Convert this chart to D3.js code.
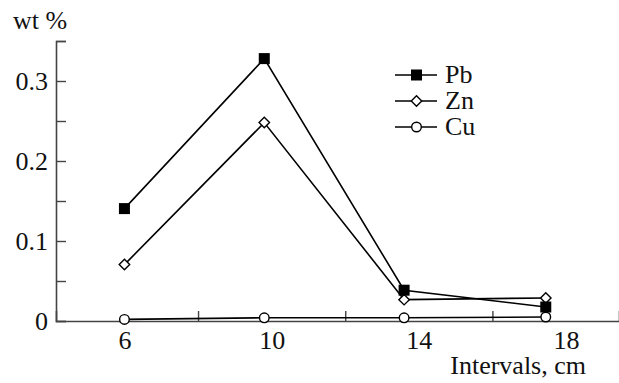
<!DOCTYPE html>
<html>
<head>
<meta charset="utf-8">
<script src="https://cdn.jsdelivr.net/npm/d3@7"></script>
<style>
  html, body { margin: 0; padding: 0; background: #fff; }
  svg { display: block; }
</style>
</head>
<body>
<svg id="chart" width="619" height="383"></svg>
<script>
// Sampling intervals (cm) at which each element was measured
const intervals = [6, 9.8, 13.6, 17.45];

// Metal content, wt %
const pb = [0.1405, 0.328, 0.0385, 0.0175];
const zn = [0.0705, 0.248, 0.0267, 0.0288];
const cu = [0.002, 0.004, 0.004, 0.005];

// Axis ticks
const xLabelTicks = [6, 10, 14, 18];
const xMinorTicks = [8, 12, 16];
const yLabelTicks = [0, 0.1, 0.2, 0.3];
const yMinorTicks = [0.05, 0.15, 0.25, 0.35];

const seriesNames = ["Pb", "Zn", "Cu"];

const FONT = "'Liberation Serif', 'Times New Roman', serif";
const FS = 26;

const svg = d3.select("#chart");
const W = 619;
const plotLeft = 56, plotBottom = 321, plotTop = 41;

const x = d3.scaleLinear().domain([4.14, 19.44]).range([plotLeft, W]);
const y = d3.scaleLinear().domain([0, 0.35]).range([plotBottom, plotTop]);

const axisColor = "#444";
const textColor = "#111";

// Y axis: inward ticks every 0.05, labels every 0.1
const yAxis = svg.append("g").attr("transform", `translate(${plotLeft},0)`)
  .call(d3.axisLeft(y).tickValues(yLabelTicks.concat(yMinorTicks)).tickSize(-10)
    .tickFormat(d => yLabelTicks.includes(d) ? (d === 0 ? "0" : d3.format(".1f")(d)) : ""));
yAxis.select(".domain").attr("stroke", axisColor).attr("stroke-width", 1.6);
yAxis.selectAll(".tick line").attr("stroke", axisColor).attr("stroke-width", 1.4);
yAxis.selectAll(".tick text").attr("x", -8)
  .style("font-family", FONT).style("font-size", FS + "px").style("fill", textColor);

// X axis: short inward minor ticks, labels without tick marks
const xAxis = svg.append("g").attr("transform", `translate(0,${plotBottom})`)
  .call(d3.axisBottom(x).tickValues(xMinorTicks).tickSize(-10).tickFormat(""));
xAxis.select(".domain").attr("stroke", axisColor).attr("stroke-width", 1.6);
xAxis.selectAll(".tick line").attr("stroke", axisColor).attr("stroke-width", 1.4)
  .attr("y1", -10).attr("y2", 1);

const xLab = svg.append("g").attr("transform", `translate(0,${plotBottom})`)
  .call(d3.axisBottom(x).tickValues(xLabelTicks).tickSize(0).tickFormat(d3.format("d")));
xLab.select(".domain").remove();
xLab.selectAll(".tick text").attr("y", 10)
  .style("font-family", FONT).style("font-size", FS + "px").style("fill", textColor);

// Axis titles
svg.append("text").attr("x", 13).attr("y", 29).text("wt %")
  .style("font-family", FONT).style("font-size", FS + "px").style("fill", textColor);
svg.append("text").attr("x", 586).attr("y", 374).attr("text-anchor", "end").text("Intervals, cm")
  .style("font-family", FONT).style("font-size", FS + "px").style("fill", textColor);

const line = d3.line().x(d => x(d[0])).y(d => y(d[1]));
const series = [
  { name: "Pb", values: pb, marker: "square" },
  { name: "Zn", values: zn, marker: "diamond" },
  { name: "Cu", values: cu, marker: "circle" }
];

function drawMarker(g, type, cx, cy) {
  if (type === "square") {
    g.append("rect").attr("x", cx - 5.5).attr("y", cy - 5.5).attr("width", 11).attr("height", 11)
      .attr("fill", "#000");
  } else if (type === "diamond") {
    const s = d3.symbol().type(d3.symbolDiamond2).size(70);
    g.append("path").attr("d", s()).attr("transform", `translate(${cx},${cy})`)
      .attr("fill", "#fff").attr("stroke", "#000").attr("stroke-width", 1.4);
  } else {
    g.append("circle").attr("cx", cx).attr("cy", cy).attr("r", 4.8)
      .attr("fill", "#fff").attr("stroke", "#000").attr("stroke-width", 1.4);
  }
}

// Lines first, markers on top
series.slice().reverse().forEach(s => {
  const pts = intervals.map((v, i) => [v, s.values[i]]);
  svg.append("path").datum(pts).attr("d", line)
    .attr("fill", "none").attr("stroke", "#000").attr("stroke-width", 1.6);
});
series.slice().reverse().forEach(s => {
  const g = svg.append("g");
  intervals.forEach((v, i) => drawMarker(g, s.marker, x(v), y(s.values[i])));
});

// Legend
const legend = svg.append("g").attr("transform", "translate(395,75)");
series.forEach((s, i) => {
  const row = legend.append("g").attr("transform", `translate(0,${i * 26})`);
  row.append("line").attr("x1", 0).attr("x2", 42).attr("y1", 0).attr("y2", 0)
    .attr("stroke", "#000").attr("stroke-width", 1.6);
  drawMarker(row, s.marker, 21.5, 0);
  row.append("text").attr("x", 50).attr("y", 8).text(seriesNames[i])
    .style("font-family", FONT).style("font-size", FS + "px").style("fill", textColor);
});
</script>
</body>
</html>
